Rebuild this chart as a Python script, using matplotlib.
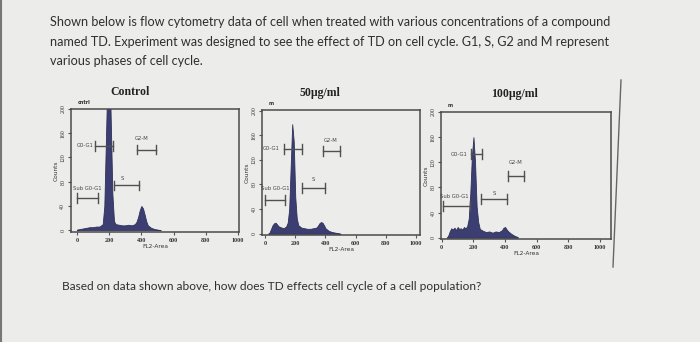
import numpy as np
import matplotlib
matplotlib.use('Agg')
import matplotlib.pyplot as plt
from matplotlib.lines import Line2D

# ---- data ----
titles = ['Control', '50\u00b5g/ml', '100\u00b5g/ml']
corner_tags = ['cntrl', 'm', 'm']

ctrl_x = [0, 20, 40, 60, 80, 100, 120, 140, 160, 170, 180, 190, 200, 210, 220, 230, 240,
          260, 280, 300, 320, 340, 360, 370, 380, 390, 400, 410, 420, 430, 440, 460, 480, 500, 520]
ctrl_counts = [1, 2, 3, 4, 5, 5, 6, 6, 10, 40, 150, 260, 300, 180, 60, 15, 10,
               9, 8, 8, 9, 8, 10, 14, 22, 33, 40, 36, 26, 15, 8, 4, 2, 1, 0]

td50_x = [20, 30, 40, 50, 60, 70, 80, 90, 100, 110, 120, 130, 140, 150, 160, 170, 180, 190,
          200, 210, 220, 240, 260, 280, 300, 320, 340, 350, 360, 370, 380, 390, 400, 420,
          440, 460, 480, 500]
td50_counts = [0, 2, 8, 14, 17, 18, 15, 12, 11, 10, 9, 10, 12, 18, 40, 110, 178, 150,
               60, 25, 14, 10, 9, 8, 8, 9, 10, 13, 17, 19, 18, 14, 9, 5,
               3, 2, 1, 0]

td100_x = [30, 40, 50, 60, 70, 80, 90, 100, 110, 120, 130, 140, 150, 160, 170, 180, 190,
           200, 210, 220, 230, 240, 260, 280, 300, 320, 340, 360, 380, 390, 400, 410, 420,
           440, 460, 480]
td100_counts = [0, 3, 10, 15, 13, 16, 12, 17, 14, 15, 13, 17, 15, 18, 30, 70, 130,
                160, 120, 50, 25, 14, 11, 9, 10, 8, 10, 9, 12, 16, 17, 13, 10,
                6, 3, 1]

gate_names = ['Sub G0-G1', 'G0-G1', 'S', 'G2-M']
# gate ranges (x0, x1, level) per panel
ctrl_gates = [(0, 128, 53), (112, 224, 139), (230, 383, 74), (375, 491, 133)]
td50_gates = [(0, 132, 55), (128, 243, 138), (243, 397, 74), (386, 497, 134)]
td100_gates = [(10, 177, 50), (183, 256, 133), (250, 412, 62), (421, 521, 98)]
# label anchor (x, y) per gate
ctrl_labels = [(62, 68), (52, 139), (284, 86), (400, 152)]
td50_labels = [(66, 73), (44, 138), (318, 88), (435, 152)]
td100_labels = [(80, 66), (108, 133), (329, 71), (469, 120)]

x_ticks = [0, 200, 400, 600, 800, 1000]
y_ticks = [0, 40, 80, 120, 160, 200]

xs = [ctrl_x, td50_x, td100_x]
cs = [ctrl_counts, td50_counts, td100_counts]
gates = [ctrl_gates, td50_gates, td100_gates]
labels = [ctrl_labels, td50_labels, td100_labels]

bg = '#ecedeb'
fill_col = '#3c3e72'
ink = '#333333'

fig = plt.figure(figsize=(7.0, 3.42), dpi=100, facecolor=bg)

# axes boxes in figure fraction, limits per panel
boxes = [[0.1014, 0.3216, 0.2400, 0.3596],
         [0.3743, 0.3129, 0.2257, 0.3655],
         [0.6300, 0.3012, 0.2429, 0.3713]]
xlims = [(-37, 1006), (-20, 1026), (-5, 1069)]
ylims = [(-3, 200), (-2, 201), (-2, 200)]
title_x = [0.35, 0.367, 0.435]
title_pad = [10, 10, 11]

for i in range(3):
    ax = fig.add_axes(boxes[i])
    ax.set_facecolor('none')
    ax.fill_between(xs[i], cs[i], 0, color=fill_col, lw=0.6, edgecolor='#2e3058')
    for (g0, g1, lev), (lx, ly), name in zip(gates[i], labels[i], gate_names):
        ax.plot([g0, g1], [lev, lev], color='#505050', lw=1.0)
        ax.plot([g0, g0], [lev - 8, lev + 8], color='#505050', lw=1.0)
        ax.plot([g1, g1], [lev - 8, lev + 8], color='#505050', lw=1.0)
        ax.text(lx, ly, name, fontsize=3.8, color='#444444', ha='center', va='center')
    ax.set_xlim(xlims[i])
    ax.set_ylim(ylims[i])
    ax.set_xticks(x_ticks)
    ax.set_yticks(y_ticks)
    ax.set_xticklabels([str(t) for t in x_ticks], fontsize=4.4, fontweight='bold',
                       family='Liberation Serif', color=ink)
    ax.set_yticklabels([str(t) for t in y_ticks], fontsize=4.2, rotation=90, va='center',
                       family='Liberation Serif', color=ink)
    ax.tick_params(length=2.5, width=0.8, colors='#555555', labelcolor=ink, pad=1.5)
    ax.set_xlabel('FL2-Area', fontsize=4.2, color=ink, labelpad=1)
    ax.set_ylabel('Counts', fontsize=4.2, color=ink, labelpad=1)
    for sp in ax.spines.values():
        sp.set_color('#4a4a4a')
        sp.set_linewidth(1.1)
    ax.set_title(titles[i], fontsize=8.5, fontweight='bold', family='Liberation Serif',
                 color='#222222', pad=title_pad[i], x=title_x[i])
    ax.text(0.04, 1.04, corner_tags[i], transform=ax.transAxes, fontsize=3.5,
            color='#333333', fontweight='bold')

# question text
fig.text(50 / 700, 1 - 22 / 342,
         'Shown below is flow cytometry data of cell when treated with various concentrations of a compound',
         fontsize=9.05, family='Lato', color='#2f2f2f', va='center')
fig.text(50 / 700, 1 - 42 / 342,
         'named TD. Experiment was designed to see the effect of TD on cell cycle. G1, S, G2 and M represent',
         fontsize=9.05, family='Lato', color='#2f2f2f', va='center')
fig.text(50 / 700, 1 - 61 / 342, 'various phases of cell cycle.',
         fontsize=9.05, family='Lato', color='#2f2f2f', va='center')
fig.text(62 / 700, 1 - 286 / 342,
         'Based on data shown above, how does TD effects cell cycle of a cell population?',
         fontsize=8.6, family='Lato', color='#2f2f2f', va='center')

# frame line on the right and screenshot border
fig.add_artist(Line2D([621 / 700, 613 / 700], [1 - 80 / 342, 1 - 267 / 342],
                      color='#666666', lw=1.0))
fig.add_artist(Line2D([0.001, 0.001], [0, 1], color='#777777', lw=1.5))

fig.savefig('out.png', dpi=100, facecolor=bg)
